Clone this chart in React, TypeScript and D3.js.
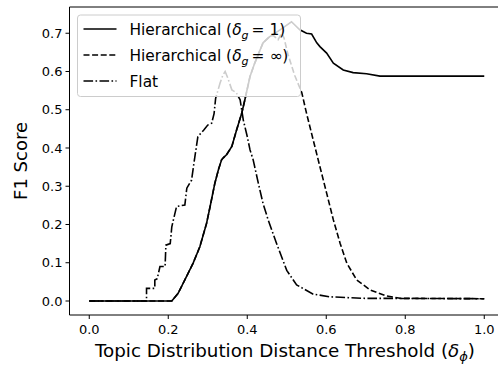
import React from "react";
import { scaleLinear, line } from "d3";

// Hierarchical (delta_g = 1)
const hierOneX = [0, 0.209, 0.225, 0.242, 0.263, 0.28, 0.297, 0.306, 0.318, 0.327, 0.335, 0.34, 0.348, 0.361, 0.373, 0.386, 0.394, 0.407, 0.419, 0.44, 0.457, 0.483, 0.512, 0.533, 0.55, 0.563, 0.576, 0.584, 0.601, 0.618, 0.643, 0.668, 0.702, 0.736, 1.0];
const hierOneY = [0, 0, 0.02, 0.055, 0.099, 0.142, 0.203, 0.247, 0.308, 0.343, 0.369, 0.375, 0.383, 0.404, 0.447, 0.491, 0.526, 0.587, 0.622, 0.675, 0.691, 0.709, 0.73, 0.709, 0.7, 0.698, 0.675, 0.665, 0.648, 0.622, 0.604, 0.597, 0.594, 0.588, 0.588];

// Hierarchical (delta_g = inf)
const hierInfX = [0, 0.209, 0.225, 0.242, 0.263, 0.28, 0.297, 0.306, 0.318, 0.327, 0.335, 0.34, 0.348, 0.361, 0.373, 0.386, 0.394, 0.407, 0.419, 0.44, 0.455, 0.465, 0.478, 0.487, 0.493, 0.503, 0.52, 0.538, 0.55, 0.567, 0.584, 0.601, 0.618, 0.635, 0.652, 0.677, 0.711, 0.753, 0.787, 1.0];
const hierInfY = [0, 0, 0.02, 0.055, 0.099, 0.142, 0.203, 0.247, 0.308, 0.343, 0.369, 0.375, 0.383, 0.404, 0.447, 0.491, 0.526, 0.587, 0.622, 0.675, 0.69, 0.695, 0.683, 0.7, 0.688, 0.645, 0.59, 0.545, 0.491, 0.421, 0.351, 0.282, 0.212, 0.151, 0.099, 0.055, 0.029, 0.013, 0.007, 0.006];

// Flat
const flatX = [0, 0.145, 0.145, 0.166, 0.166, 0.172, 0.179, 0.192, 0.194, 0.205, 0.209, 0.221, 0.242, 0.247, 0.259, 0.265, 0.275, 0.29, 0.3, 0.31, 0.316, 0.32, 0.331, 0.338, 0.344, 0.35, 0.361, 0.372, 0.382, 0.39, 0.4, 0.407, 0.415, 0.428, 0.44, 0.453, 0.474, 0.5, 0.525, 0.567, 0.609, 0.693, 1.0];
const flatY = [0, 0, 0.033, 0.033, 0.055, 0.058, 0.09, 0.09, 0.146, 0.15, 0.194, 0.247, 0.251, 0.295, 0.316, 0.36, 0.43, 0.447, 0.46, 0.465, 0.49, 0.53, 0.569, 0.59, 0.6, 0.585, 0.552, 0.545, 0.526, 0.473, 0.43, 0.395, 0.369, 0.308, 0.255, 0.212, 0.151, 0.08, 0.042, 0.018, 0.011, 0.007, 0.006];

const xTicks = [0, 0.2, 0.4, 0.6, 0.8, 1.0];
const yTicks = [0, 0.1, 0.2, 0.3, 0.4, 0.5, 0.6, 0.7];

const font = "'DejaVu Sans', sans-serif";

export default function App() {
  const width = 498;
  const height = 366;
  const left = 69.5, right = 504, top = 7, bottom = 315;

  const x = scaleLinear().domain([-0.05, 1.05]).range([left, right]);
  const y = scaleLinear().domain([-0.0366, 0.7686]).range([bottom, top]);

  const path = (xs: number[], ys: number[]) =>
    line<number>()
      .x((d, i) => x(xs[i]))
      .y((d, i) => y(ys[i]))(xs) as string;

  const series = [
    { xs: hierOneX, ys: hierOneY, dash: "none", label: "1" },
    { xs: hierInfX, ys: hierInfY, dash: "6,2.6", label: "∞" },
    { xs: flatX, ys: flatY, dash: "9.6,2.4,1.6,2.4", label: null },
  ];

  const legendX = 77.5, legendY = 15;

  return (
    <div style={{ position: "absolute", left: 0, top: 0 }}>
      <svg width={width} height={height} style={{ display: "block" }} fontFamily={font}>
        <rect width={width} height={height} fill="white" />
        <clipPath id="plot">
          <rect x={left} y={top} width={right - left} height={bottom - top} />
        </clipPath>
        {series.map((s, i) => (
          <path
            key={i}
            d={path(s.xs, s.ys)}
            fill="none"
            stroke="black"
            strokeWidth={1.6}
            strokeDasharray={s.dash}
            clipPath="url(#plot)"
          />
        ))}

        {/* spines */}
        <line x1={left} x2={left} y1={top} y2={bottom} stroke="black" strokeWidth={1} />
        <line x1={left} x2={right} y1={bottom} y2={bottom} stroke="black" strokeWidth={1} />
        <line x1={left} x2={right} y1={top} y2={top} stroke="black" strokeWidth={1} />

        {/* x ticks */}
        {xTicks.map((t) => (
          <g key={t}>
            <line x1={x(t)} x2={x(t)} y1={bottom} y2={bottom + 4} stroke="black" />
            <text x={x(t)} y={bottom + 18.5} fontSize={13} textAnchor="middle">
              {t.toFixed(1)}
            </text>
          </g>
        ))}
        {/* y ticks */}
        {yTicks.map((t) => (
          <g key={t}>
            <line x1={left - 4} x2={left} y1={y(t)} y2={y(t)} stroke="black" />
            <text x={left - 7} y={y(t) + 4.7} fontSize={13} textAnchor="end">
              {t.toFixed(1)}
            </text>
          </g>
        ))}

        <text x={95} y={357} fontSize={18.3}>
          Topic Distribution Distance Threshold (<tspan fontStyle="italic">δ</tspan>
          <tspan fontStyle="italic" fontSize={13} dy={4}>ϕ</tspan>
          <tspan dy={-4}>)</tspan>
        </text>
        <text transform={`translate(27,${(top + bottom) / 2}) rotate(-90)`} fontSize={18} textAnchor="middle">
          F1 Score
        </text>

        {/* legend */}
        <rect x={legendX} y={legendY} width={223} height={81.5} rx={3} fill="white" fillOpacity={0.8} stroke="#cccccc" strokeWidth={1} />
        {series.map((s, i) => {
          const cy = legendY + 14 + i * 26;
          return (
            <g key={i}>
              <line x1={legendX + 6} x2={legendX + 39} y1={cy} y2={cy} stroke="black" strokeWidth={1.6} strokeDasharray={s.dash} />
              <text x={legendX + 52} y={cy + 5.5} fontSize={15.4}>
                {s.label ? (
                  <>
                    Hierarchical (<tspan fontStyle="italic">δ</tspan>
                    <tspan fontStyle="italic" fontSize={11} dy={4}>g</tspan>
                    <tspan dy={-4}>{"\u2009= " + s.label + ")"}</tspan>
                  </>
                ) : (
                  "Flat"
                )}
              </text>
            </g>
          );
        })}
      </svg>
    </div>
  );
}
